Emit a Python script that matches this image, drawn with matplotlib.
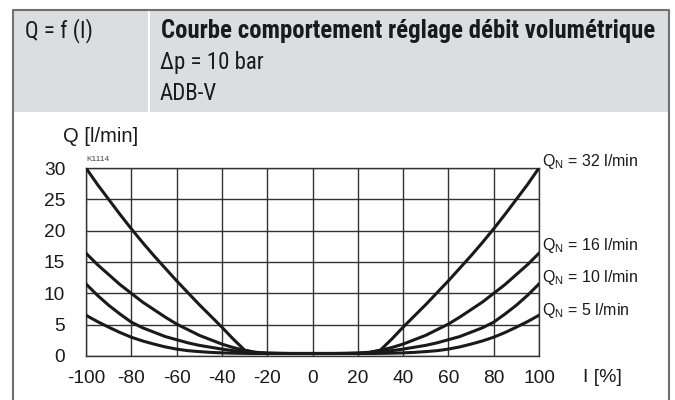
import matplotlib
matplotlib.use("Agg")
import matplotlib.pyplot as plt
from matplotlib import font_manager
from matplotlib.patches import Rectangle
from matplotlib.lines import Line2D

# data (I in %, Q in l/min)
current = [-100, -95, -90, -85, -80, -75, -70, -65, -60, -55, -50, -45, -40,
           -35, -30, -25, -20, -15, -10, -5, 0, 5, 10, 15, 20, 25, 30, 35,
           40, 45, 50, 55, 60, 65, 70, 75, 80, 85, 90, 95, 100]
q32 = [30.0, 27.4, 25.0, 22.6, 20.3, 18.1, 16.0, 14.0, 12.0, 10.1, 8.2, 6.4,
       4.6, 2.7, 0.95, 0.5, 0.42, 0.4, 0.4, 0.4, 0.4, 0.4, 0.4, 0.4, 0.42,
       0.5, 0.95, 2.7, 4.6, 6.4, 8.2, 10.1, 12.0, 14.0, 16.0, 18.1, 20.3,
       22.6, 25.0, 27.4, 30.0]
q16 = [16.4, 14.6, 13.0, 11.4, 10.0, 8.6, 7.4, 6.2, 5.1, 4.2, 3.3, 2.6, 1.9,
       1.35, 0.9, 0.6, 0.45, 0.42, 0.4, 0.4, 0.4, 0.4, 0.4, 0.42, 0.45, 0.6,
       0.9, 1.35, 1.9, 2.6, 3.3, 4.2, 5.1, 6.2, 7.4, 8.6, 10.0, 11.4, 13.0,
       14.6, 16.4]
q10 = [11.5, 9.7, 8.1, 6.7, 5.4, 4.5, 3.8, 3.1, 2.6, 2.1, 1.7, 1.4, 1.1,
       0.85, 0.65, 0.5, 0.45, 0.42, 0.4, 0.4, 0.4, 0.4, 0.4, 0.42, 0.45, 0.5,
       0.65, 0.85, 1.1, 1.4, 1.7, 2.1, 2.6, 3.1, 3.8, 4.5, 5.4, 6.7, 8.1,
       9.7, 11.5]
q5 = [6.5, 5.5, 4.6, 3.75, 3.0, 2.4, 1.9, 1.45, 1.1, 0.85, 0.7, 0.58, 0.5,
      0.45, 0.42, 0.4, 0.4, 0.4, 0.4, 0.4, 0.4, 0.4, 0.4, 0.4, 0.4, 0.4,
      0.42, 0.45, 0.5, 0.58, 0.7, 0.85, 1.1, 1.45, 1.9, 2.4, 3.0, 3.75, 4.6,
      5.5, 6.5]
series = [q32, q16, q10, q5]
series_labels = ["32", "16", "10", "5"]
label_y = [31.0, 17.6, 12.5, 7.3]

x_ticks = list(range(-100, 101, 20))
y_ticks = list(range(0, 31, 5))


def pick(names):
    have = {f.name for f in font_manager.fontManager.ttflist}
    for n in names:
        if n in have:
            return n
    return "DejaVu Sans"


cond = pick(["Roboto Condensed", "Liberation Sans Narrow", "DejaVu Sans Condensed", "Roboto"])
arial = pick(["Liberation Sans", "Arial", "DejaVu Sans"])

plt.rcParams["axes.unicode_minus"] = False
plt.rcParams["mathtext.fontset"] = "custom"
plt.rcParams["mathtext.rm"] = arial
plt.rcParams["mathtext.it"] = arial

W, H = 675, 400
fig = plt.figure(figsize=(6.75, 4), dpi=100)


def fx(px):
    return px / W


def fy(py):
    return 1 - py / H


# header box
grey = "#dcdde0"
edge = "#707070"
ink = "#1a1a1a"
fig.patches.append(Rectangle((fx(13), fy(112)), fx(669 - 13), (112 - 10) / H,
                             transform=fig.transFigure, facecolor=grey,
                             edgecolor="none", zorder=0))
fig.lines.append(Line2D([fx(149), fx(149)], [fy(10), fy(112)], color="white",
                        lw=1.5, transform=fig.transFigure))
fig.lines.append(Line2D([fx(13), fx(13), fx(669), fx(669)],
                        [fy(400), fy(10), fy(10), fy(400)], color=edge,
                        lw=1.5, transform=fig.transFigure))

fig.text(fx(25), fy(31), "Q = f (I)", fontsize=16.5, family=cond,
         va="center", ha="left", color=ink)
fig.text(fx(161), fy(31), "Courbe comportement réglage débit volumétrique",
         fontsize=17.8, family=cond, weight="bold", va="center", ha="left",
         color=ink)
fig.text(fx(160), fy(63), "Δp = 10 bar", fontsize=16.5, family=cond,
         va="center", ha="left", color=ink)
fig.text(fx(160), fy(94), "ADB-V", fontsize=16.5, family=cond,
         va="center", ha="left", color=ink)

# chart
ax = fig.add_axes([fx(86), fy(356), fx(539 - 86), (356 - 168) / H])
for s in series:
    ax.plot(current, s, color=ink, lw=2.2, solid_joinstyle="round", zorder=3)

ax.set_xlim(-100, 100)
ax.set_ylim(0, 30)
ax.set_xticks(x_ticks)
ax.set_yticks(y_ticks)
ax.grid(True, color="#333333", lw=1.0)
ax.set_axisbelow(True)
for sp in ax.spines.values():
    sp.set_color("#333333")
    sp.set_linewidth(1.0)
ax.tick_params(length=0, labelsize=13.8, colors=ink)
ax.tick_params(axis="x", pad=10)
ax.tick_params(axis="y", pad=15)
for t in ax.get_xticklabels() + ax.get_yticklabels():
    t.set_family(arial)

for lab, yv in zip(series_labels, label_y):
    ax.text(101.5, yv, r"Q$_\mathrm{N}$ = " + lab + " l/min", fontsize=11.5,
            family=arial, va="center", ha="left", color=ink,
            clip_on=False)

ax.text(0.0, 1.025, "K1114", transform=ax.transAxes, fontsize=6,
        family=arial, color="#444444", va="bottom", ha="left")

fig.text(fx(63), fy(137), "Q [l/min]", fontsize=14.5, family=arial,
         va="center", ha="left", color=ink)
fig.text(fx(583), fy(378), "I [%]", fontsize=14, family=arial,
         va="center", ha="left", color=ink)

fig.savefig("out.png", dpi=100)
